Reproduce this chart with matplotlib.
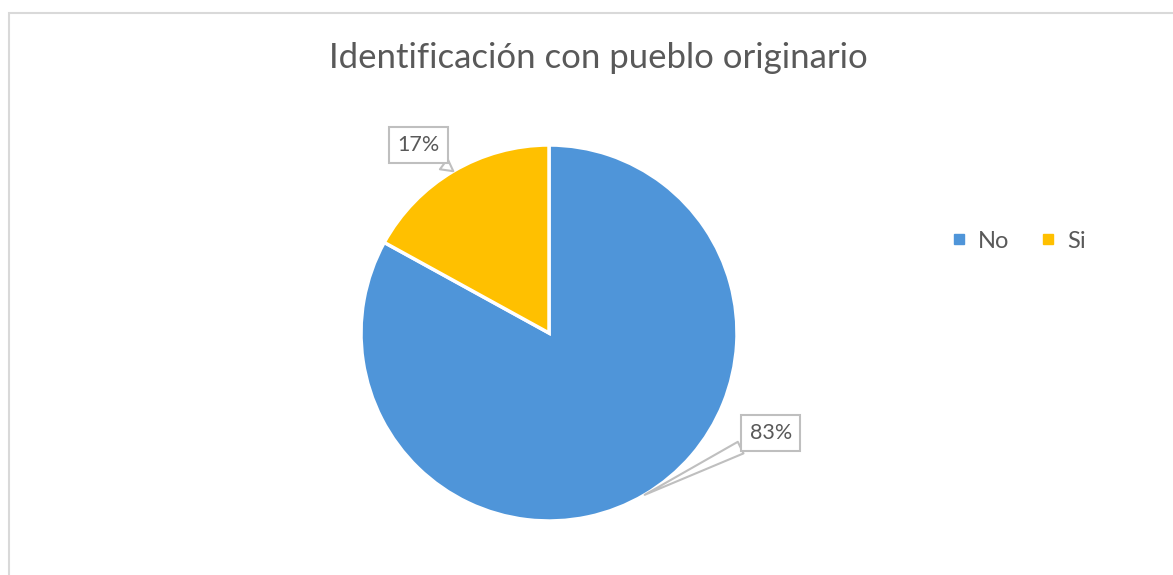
import numpy as np
import matplotlib
matplotlib.use('Agg')
import matplotlib.pyplot as plt
from matplotlib.lines import Line2D
from matplotlib.patches import Rectangle

plt.rcParams['font.family'] = ['Lato', 'DejaVu Sans']

title = 'Identificación con pueblo originario'
categories = ['No', 'Si']
values = [83, 17]
colors = ['#4f95d9', '#ffc000']
text_color = '#595959'

W, H = 1173, 575
fig = plt.figure(figsize=(W / 100, H / 100), dpi=100)

# chart border (light gray)
fig.patches.append(Rectangle((9 / W, -0.05), 1.2, 1 - 13 / H + 0.05, transform=fig.transFigure,
                             fill=False, ec='#d9d9d9', lw=1.5))

cx, cy, r = 549, 333, 188
ax = fig.add_axes([(cx - r) / W, (H - cy - r) / H, 2 * r / W, 2 * r / H])
wedges, _ = ax.pie(values, colors=colors, startangle=90, counterclock=False, radius=1,
                   wedgeprops=dict(edgecolor='white', linewidth=2.5))
ax.set_xlim(-1, 1)
ax.set_ylim(-1, 1)
ax.axis('off')

# data labels as callouts
offsets = [(126, 62), (-35, 26)]
for w, v, off in zip(wedges, values, offsets):
    ang = np.deg2rad((w.theta1 + w.theta2) / 2)
    tip = (np.cos(ang), np.sin(ang))
    ax.annotate(f'{v}%', xy=tip, xytext=off, textcoords='offset pixels',
                ha='center', va='center', fontsize=15.5, color=text_color,
                bbox=dict(boxstyle='square,pad=0.38', fc='white', ec='#bfbfbf', lw=1.5),
                arrowprops=dict(arrowstyle='wedge,tail_width=0.6,shrink_factor=0.5', fc='white',
                                ec='#bfbfbf', lw=1.5, shrinkA=0, shrinkB=0),
                annotation_clip=False)

fig.text(598 / W, 1 - 58 / H, title, ha='center', va='center', fontsize=25, color=text_color)

handles = [Line2D([], [], marker='s', ls='', color=c, markersize=7.5) for c in colors]
fig.legend(handles, categories, loc='center left', bbox_to_anchor=(952 / W, 1 - 241 / H),
           ncol=2, frameon=False, fontsize=17, labelcolor=text_color,
           borderpad=0, borderaxespad=0,
           handlelength=0.6, handletextpad=0.5, columnspacing=1.35)

fig.savefig('out.png', dpi=100)
